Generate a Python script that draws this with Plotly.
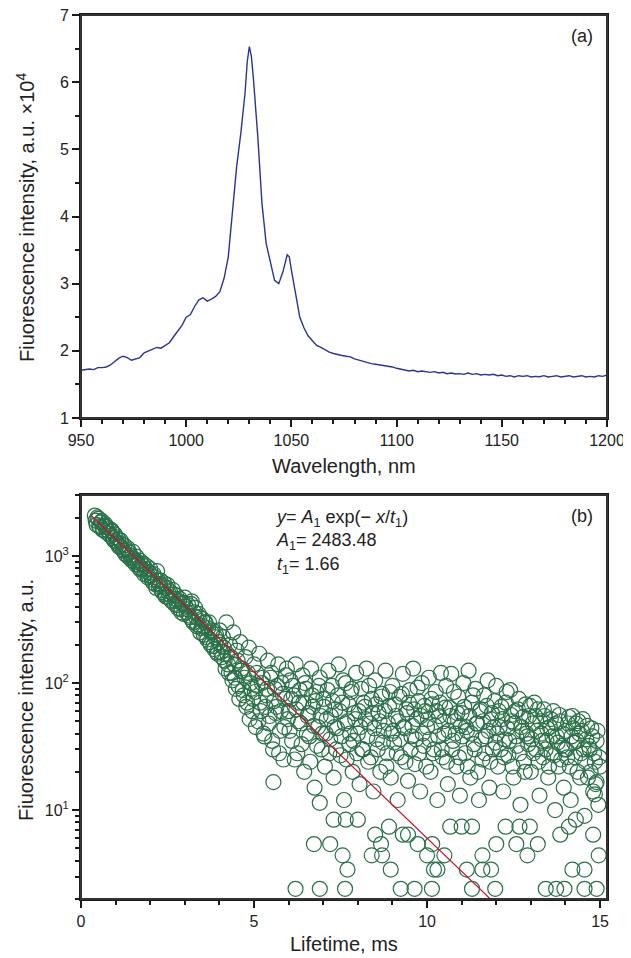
import numpy as np
import plotly.graph_objects as go

# ---------------- Panel (a): emission spectrum ----------------
wavelength = [950, 952, 954, 956, 958, 960, 962, 964, 966, 968, 970, 972, 974, 976, 978,
              980, 982, 984, 986, 988, 990, 992, 994, 996, 998, 1000, 1002, 1004, 1006, 1008,
              1010, 1012, 1014, 1016, 1018, 1020, 1022, 1024, 1026, 1028, 1029, 1030, 1031, 1032,
              1034, 1036, 1038, 1040, 1042, 1044, 1046, 1048, 1049, 1050, 1052, 1054, 1056, 1058,
              1060, 1062, 1064, 1066, 1068, 1070, 1072, 1074, 1076, 1078, 1080, 1082, 1084, 1086,
              1088, 1090, 1092, 1094, 1096, 1098, 1100, 1102, 1104, 1106, 1108, 1110, 1112, 1114,
              1116, 1118, 1120, 1122, 1124, 1126, 1128, 1130, 1132, 1134, 1136, 1138, 1140, 1142,
              1144, 1146, 1148, 1150, 1152, 1154, 1156, 1158, 1160, 1162, 1164, 1166, 1168, 1170,
              1172, 1174, 1176, 1178, 1180, 1182, 1184, 1186, 1188, 1190, 1192, 1194, 1196, 1198, 1200]
intensity = [1.71, 1.72, 1.73, 1.72, 1.75, 1.75, 1.76, 1.79, 1.84, 1.89, 1.92, 1.90, 1.86, 1.88, 1.90,
             1.97, 2.00, 2.03, 2.05, 2.04, 2.08, 2.12, 2.21, 2.30, 2.38, 2.50, 2.54, 2.66, 2.76, 2.79,
             2.74, 2.77, 2.81, 2.88, 3.08, 3.40, 4.05, 4.75, 5.25, 5.85, 6.30, 6.53, 6.38, 6.03,
             5.20, 4.20, 3.60, 3.30, 3.05, 3.00, 3.18, 3.43, 3.40, 3.20, 2.85, 2.50, 2.34, 2.22,
             2.15, 2.08, 2.05, 2.01, 1.98, 1.96, 1.94, 1.93, 1.92, 1.91, 1.88, 1.86, 1.85, 1.83,
             1.81, 1.80, 1.79, 1.78, 1.78, 1.76, 1.74, 1.73, 1.71, 1.70, 1.71, 1.69, 1.70, 1.69,
             1.68, 1.69, 1.67, 1.68, 1.66, 1.67, 1.655, 1.66, 1.65, 1.67, 1.65, 1.66, 1.64, 1.65,
             1.64, 1.65, 1.63, 1.64, 1.62, 1.63, 1.61, 1.63, 1.62, 1.63, 1.61, 1.62, 1.615, 1.63,
             1.61, 1.62, 1.63, 1.61, 1.62, 1.63, 1.61, 1.62, 1.63, 1.61, 1.62, 1.61, 1.63, 1.62, 1.64]

# ---------------- Panel (b): decay ----------------
lifetime_start, lifetime_step = 0.40, 0.05
decay_counts = [
    # 0.40 - 0.95
    2080, 1760, 1960, 1690, 1890, 1600, 1780, 1520, 1650, 1440, 1560, 1330,
    # 1.00 - 1.95
    1410, 1250, 1180, 1320, 1130, 1210, 1020, 1150, 1060, 960, 1080, 900, 990, 860, 920, 800, 870, 760, 830, 700,
    # 2.00 - 2.95
    790, 650, 720, 600, 760, 580, 640, 520, 610, 480, 590, 500, 450, 540, 420, 490, 390, 460, 360, 430,
    # 3.00 - 3.95
    470, 360, 410, 330, 440, 300, 390, 280, 350, 250, 320, 240, 300, 220, 300, 200, 260, 185, 240, 170,
    # 4.00 - 4.95
    260, 175, 230, 150, 300, 140, 200, 120, 250, 110, 180, 95, 210, 130, 80, 160, 70, 190, 100, 60,
    # 5.00 - 5.95
    140, 45, 95, 170, 60, 110, 38, 80, 150, 55, 120, 30, 90, 65, 140, 42, 100, 25, 75, 130,
    # 6.00 - 6.95
    60, 105, 35, 80, 140, 28, 70, 48, 115, 20, 90, 55, 38, 130, 65, 15, 85, 45, 110, 30,
    # 7.00 - 7.95
    75, 22, 52, 125, 36, 95, 18, 62, 44, 140, 27, 70, 12, 100, 50, 33, 85, 20, 58, 120,
    # 8.00 - 8.95
    40, 16, 90, 30, 65, 130, 24, 48, 75, 14, 105, 36, 58, 20, 82, 42, 125, 28, 66, 18,
    # 9.00 - 9.95
    95, 34, 55, 12, 78, 26, 118, 44, 62, 17, 88, 38, 130, 23, 52, 72, 14, 100, 32, 60,
    # 10.00 - 10.95
    45, 110, 20, 68, 30, 85, 12, 55, 120, 26, 40, 95, 16, 64, 118, 35, 50, 22, 78, 13,
    # 11.00 - 11.95
    58, 100, 28, 42, 125, 18, 70, 33, 90, 48, 12, 62, 25, 80, 38, 105, 15, 52, 30, 72,
    # 12.00 - 12.95
    95, 22, 45, 65, 14, 36, 85, 27, 88, 50, 18, 60, 32, 75, 11, 42, 24, 68, 38, 55,
    # 13.00 - 13.95
    20, 48, 70, 30, 62, 13, 40, 26, 55, 35, 18, 45, 28, 60, 10, 38, 22, 50, 32, 15,
    # 14.00 - 15.00
    42, 26, 54, 12, 55, 34, 48, 20, 40, 28, 52, 9, 36, 18, 30, 44, 14, 24, 35, 11, 22,
]
decay_time = [round(lifetime_start + i * lifetime_step, 2) for i in range(len(decay_counts))]

# second interleaved sweep (dense band, offset by half a step)
band_counts = [
    # 0.425 - 0.975
    1900, 2010, 1720, 1840, 1610, 1730, 1700, 1580, 1490, 1600, 1380, 1480,
    # 1.025 - 1.975
    1300, 1360, 1200, 1240, 1100, 1050, 1120, 980, 1010, 920, 950, 860, 900, 810, 780, 850, 720, 790, 680, 740,
    # 2.025 - 2.975
    700, 620, 680, 560, 640, 600, 540, 580, 500, 560, 470, 520, 440, 500, 460, 410, 440, 380, 420, 350,
    # 3.025 - 3.975
    400, 380, 340, 420, 310, 360, 330, 290, 330, 270, 280, 300, 230, 270, 210, 250, 195, 230, 175, 210,
    # 4.025 - 4.975
    200, 160, 190, 130, 170, 120, 160, 105, 140, 90, 150, 75, 125, 88, 110, 65, 120, 52, 90, 75,
    # 5.025 - 5.975
    85, 120, 50, 70, 100, 40, 65, 90, 48, 110, 35, 72, 58, 95, 28, 60, 82, 45, 115, 52,
    # 6.025 - 6.975
    42, 75, 95, 25, 62, 50, 88, 33, 70, 100, 40, 58, 24, 80, 46, 72, 32, 95, 55, 40,
    # 7.025 - 7.975
    65, 40, 88, 28, 55, 72, 45, 30, 80, 60, 38, 105, 48, 25, 68, 40, 90, 35, 52, 28,
    # 8.025 - 8.975
    60, 45, 30, 70, 52, 38, 95, 26, 58, 44, 68, 30, 50, 78, 34, 60, 22, 48, 85, 40,
    # 9.025 - 9.975
    42, 68, 28, 50, 36, 82, 45, 24, 58, 70, 30, 46, 62, 36, 92, 28, 55, 40, 66, 22,
    # 10.025 - 10.975
    52, 36, 75, 28, 46, 60, 38, 70, 30, 50, 64, 24, 42, 55, 30, 85, 40, 58, 26, 46,
    # 11.025 - 11.975
    38, 65, 45, 22, 55, 40, 80, 30, 48, 20, 60, 36, 50, 28, 66, 42, 24, 58, 45, 34,
    # 12.025 - 12.975
    40, 60, 30, 52, 26, 70, 44, 35, 56, 22, 48, 38, 62, 28, 45, 54, 20, 40, 33, 66,
    # 13.025 - 13.975
    36, 28, 55, 42, 24, 50, 35, 62, 30, 44, 22, 52, 38, 27, 48, 34, 56, 25, 40, 30,
    # 14.025 - 14.975
    30, 48, 22, 38, 44, 26, 35, 50, 18, 42, 30, 24, 46, 32, 20, 38, 28, 16, 42, 26,
]
band_time = [round(lifetime_start + lifetime_step / 2 + i * lifetime_step, 3) for i in range(len(band_counts))]

# sparse low-count points (quantised levels)
low_time = [5.56, 6.73, 7.2, 7.56, 7.7, 6.2, 6.9, 7.63, 6.9, 7.3, 7.65, 8.0, 8.5, 8.4, 8.7, 8.67,
            8.9, 8.95, 9.24, 9.64, 10.14, 9.3, 9.45, 9.73, 10.0, 10.15, 10.2, 10.3, 10.5, 10.67,
            11.0, 11.3, 11.15, 11.3, 11.6, 11.6, 11.85, 11.97, 12.0, 12.27, 12.58, 12.67, 12.97,
            12.9, 13.2, 13.43, 13.73, 13.97, 13.85, 14.1, 14.3, 14.2, 14.55, 14.55, 14.9, 14.8,
            14.96, 14.9, 14.85]
low_counts = [16.6, 5.4, 5.4, 4.4, 3.4, 2.4, 2.4, 2.4, 11.4, 8.4, 8.4, 8.4, 6.4, 4.4, 4.4, 5.4,
              7.4, 3.4, 2.4, 2.4, 2.4, 6.4, 6.4, 5.4, 4.4, 5.4, 3.4, 3.4, 4.4, 7.4,
              7.4, 7.4, 3.4, 2.4, 4.4, 3.4, 3.4, 2.4, 5.4, 7.4, 5.4, 7.4, 7.4,
              4.4, 5.4, 2.4, 2.4, 2.4, 6.4, 7.4, 8.4, 3.4, 3.4, 2.4, 2.4, 6.4,
              4.4, 16.6, 13.3]

# fitted model parameters (as printed on the chart)
A1 = 2483.48
t1 = 1.66
fit_time = np.linspace(0.3, 12.2, 200)
fit_counts = A1 * np.exp(-fit_time / t1)

# ---------------- Figure ----------------
FONT = "Liberation Sans, Arial, sans-serif"
AXIS_COLOR = "#1a1a1a"
FRAME_COLOR = "#333333"
TEXT_COLOR = "#222"
fig = go.Figure()

fig.add_trace(go.Scatter(x=wavelength, y=intensity, mode="lines",
                         line=dict(color="#2b3594", width=1.4),
                         xaxis="x", yaxis="y", showlegend=False))

fig.add_trace(go.Scatter(x=decay_time + band_time + low_time,
                         y=decay_counts + band_counts + low_counts, mode="markers",
                         marker=dict(symbol="circle-open", size=15,
                                     line=dict(color="#2a7048", width=1.2), color="#2a7048"),
                         xaxis="x2", yaxis="y2", showlegend=False))

fig.add_trace(go.Scatter(x=fit_time, y=fit_counts, mode="lines",
                         line=dict(color="#c8102e", width=1.2),
                         xaxis="x2", yaxis="y2", showlegend=False))

common = dict(showline=True, linecolor=AXIS_COLOR, linewidth=2, mirror=True,
              ticks="outside", tickcolor=AXIS_COLOR, tickwidth=1.5, ticklen=7,
              showgrid=False, zeroline=False, automargin=False,
              ticklabeloverflow="allow",
              tickfont=dict(family=FONT, size=16, color=TEXT_COLOR))

minor_tick = lambda **kw: dict(ticks="outside", ticklen=4, tickcolor=AXIS_COLOR, tickwidth=1.5, showgrid=False, **kw)

decades = [10, 100, 1000]
decade_labels = ["10<sup>1</sup>", "10<sup>2</sup>", "10<sup>3</sup>"]
log_minor = [m * d for d in [1, 10, 100, 1000] for m in range(2, 10)]

TITLE_FONT = dict(family=FONT, size=20, color=TEXT_COLOR)
LABEL_FONT = dict(family=FONT, size=18, color=TEXT_COLOR)

# page body adds an 8 px offset; the figure is sized so the plot areas land on the reference
FIG_W, FIG_H = 623, 950
ML, MR, MT, MB = 73, 24, 7, 59
PLOT_W = FIG_W - ML - MR
PLOT_H = FIG_H - MT - MB


def px_x(page_x):
    return (page_x - 8 - ML) / PLOT_W


def px_y(page_y):
    return (FIG_H - MB - (page_y - 8)) / PLOT_H


def note(text, px, py, font, **kw):
    d = dict(text=text, x=px_x(px), y=px_y(py), xref="paper", yref="paper",
             showarrow=False, font=font, xanchor="center", yanchor="middle")
    d.update(kw)
    return d


frame = lambda xa, ya: dict(type="rect", xref=f"{xa} domain", yref=f"{ya} domain",
                            x0=0, x1=1, y0=0, y1=1, line=dict(color=FRAME_COLOR, width=2),
                            fillcolor="rgba(0,0,0,0)", layer="above")

fig.update_layout(
    width=FIG_W, height=FIG_H,
    margin=dict(l=ML, r=MR, t=MT, b=MB, autoexpand=False),
    paper_bgcolor="white", plot_bgcolor="white",
    font=dict(family=FONT, color=TEXT_COLOR),
    xaxis=dict(common, domain=[0, 1], anchor="y", range=[950, 1200],
               tickvals=[950, 1000, 1050, 1100, 1150, 1200],
               minor=minor_tick(dtick=10, tick0=950)),
    yaxis=dict(common, domain=[px_y(418), 1], anchor="x", range=[1, 7], dtick=1,
               minor=minor_tick(dtick=0.5, tick0=1)),
    xaxis2=dict(common, domain=[0, 1], anchor="y2", range=[0, 15.2],
                tickvals=[0, 5, 10, 15],
                minor=minor_tick(dtick=1, tick0=0)),
    yaxis2=dict(common, domain=[0, px_y(495)], anchor="x2", type="log", range=[0.3, 3.48],
                tickvals=decades, ticktext=decade_labels,
                minor=minor_tick(tickmode="array", tickvals=log_minor)),
    shapes=[frame("x", "y"), frame("x2", "y2")],
    annotations=[
        note("Wavelength, nm", 344, 466, TITLE_FONT),
        note("Lifetime, ms", 344, 944, TITLE_FONT),
        note("Fiuorescence intensity, a.u. ×10<sup>4</sup>", 26, 218, TITLE_FONT, textangle=-90),
        note("Fiuorescence intensity, a.u.", 26, 700, TITLE_FONT, textangle=-90),
        note("(a)", 582, 36, dict(family=FONT, size=18, color=TEXT_COLOR)),
        note("(b)", 582, 516, dict(family=FONT, size=18, color=TEXT_COLOR)),
        note("<i>y</i>= <i>A</i><sub>1</sub> exp(− <i>x</i>/<i>t</i><sub>1</sub>)<br>"
             "<i>A</i><sub>1</sub>= 2483.48<br><i>t</i><sub>1</sub>= 1.66",
             273, 505, LABEL_FONT, xanchor="left", yanchor="top", align="left"),
    ],
)

fig.write_html("out.html")
